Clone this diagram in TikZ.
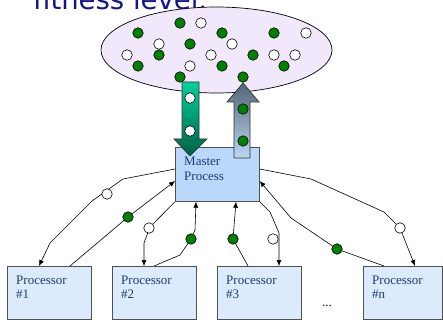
\documentclass[tikz,border=0pt]{standalone}
\usepackage{fontspec}
\setmainfont{Liberation Serif}
\newfontfamily\headfont{DejaVu Sans}
\usetikzlibrary{arrows.meta,calc,shapes.geometric}
\definecolor{navy}{RGB}{22,22,135}
\definecolor{poolfill}{RGB}{242,232,252}
\definecolor{gooddot}{RGB}{0,128,0}
\definecolor{masterfill}{RGB}{186,216,250}
\definecolor{procfill}{RGB}{220,235,252}
\definecolor{boxtext}{RGB}{30,60,110}
\definecolor{boxedge}{RGB}{80,80,80}
\definecolor{tealtop}{RGB}{0,210,155}
\definecolor{tealbot}{RGB}{0,95,70}
\definecolor{slatetop}{RGB}{85,100,118}
\definecolor{slatebot}{RGB}{190,215,245}
\tikzset{
  gdot/.style={circle,draw=black,line width=0.6pt,fill=gooddot,inner sep=0pt,minimum size=10.5pt},
  wdot/.style={circle,draw=black,line width=0.6pt,fill=white,inner sep=0pt,minimum size=10.5pt},
  procbox/.style={draw=boxedge,line width=0.7pt,fill=procfill,inner sep=0pt,minimum width=84pt,minimum height=53pt,anchor=north west},
  masterbox/.style={draw=boxedge,line width=0.7pt,fill=masterfill,inner sep=0pt,minimum width=84pt,minimum height=54pt,anchor=north west},
  boxlbl/.style={anchor=base west,inner sep=0pt,text=boxtext,font=\fontsize{13}{15}\selectfont},
  conn/.style={draw=black,line width=0.6pt},
  arr/.style={conn,-{Latex[length=6pt,width=5pt]}}
}
\begin{document}
\begin{tikzpicture}[x=1pt,y=-1pt]
\useasboundingbox (0,0) rectangle (443,320);

% heading line, cut at the top edge
\begin{scope}
\clip (0,0) rectangle (443,320);
\node[anchor=base west,inner sep=0pt,text=navy,font=\headfont\fontsize{27.5}{30}\selectfont] (head) at (33,9.5) {fitness level.};
\end{scope}

% population pool
\node[ellipse,draw=black,line width=0.7pt,fill=poolfill,minimum width=231pt,minimum height=86pt,inner sep=0pt] (pool) at (216.5,50) {};

% master and processor boxes
\node[masterbox] (master) at (175,147) {};
\node[procbox] (p1) at (7,266) {};
\node[procbox] (p2) at (112,266) {};
\node[procbox] (p3) at (217,266) {};
\node[procbox,minimum width=79pt] (pn) at (363,266) {};

% transfer arrows between pool and master
\shade[top color=tealtop,bottom color=tealbot,draw=black!80,line width=0.7pt]
  (182,82) -- (199,82) -- (199,139) -- (207,139) -- (190,156) -- (174,139) -- (182,139) -- cycle;
\shade[top color=slatetop,bottom color=slatebot,draw=black!80,line width=0.7pt]
  (234,158) -- (250,158) -- (250,102) -- (259,102) -- (243,83) -- (227,102) -- (234,102) -- cycle;

% individuals in the pool
\foreach \i/\p in {1/{180,23},2/{138,33},3/{222,33},4/{274,33},5/{190,44},6/{159,55},7/{253,55},8/{138,66},9/{222,66},10/{284,66},11/{180,77},12/{243,77}}
  \node[gdot] (g\i) at (\p) {};
\foreach \i/\p in {1/{201,23},2/{306,33},3/{159,44},4/{232,44},5/{127,55},6/{211,55},7/{274,55},8/{295,55},9/{190,66}}
  \node[wdot] (w\i) at (\p) {};

% individuals travelling through the arrows
\node[wdot] (down1) at (190,98) {};
\node[wdot] (down2) at (190,131) {};
\node[gdot] (up1) at (243,109) {};
\node[gdot] (up2) at (243,141) {};

% box labels
\node[boxlbl] (mlbl1) at (184,165) {Master};
\node[boxlbl] (mlbl2) at (184,180) {Process};
\node[boxlbl] (l1a) at (16,284) {Processor};
\node[boxlbl] (l1b) at (16,298) {\#1};
\node[boxlbl] (l2a) at (121,284) {Processor};
\node[boxlbl] (l2b) at (121,298) {\#2};
\node[boxlbl] (l3a) at (226,284) {Processor};
\node[boxlbl] (l3b) at (226,298) {\#3};
\node[boxlbl] (lna) at (372,284) {Processor};
\node[boxlbl] (lnb) at (372,298) {\#n};
\node[anchor=base,inner sep=0pt,font=\fontsize{13}{15}\selectfont] (more) at (327,306) {...};

% master <-> processor traffic
\draw[arr] (master.west |- 0,169) -- (123,179) -- (92,201) -- (50,243) -- (p1.north -| 39,0);
\draw[arr] (p1.north -| 70,0) -- (128,217) -- (master.west |- 0,181);
\draw[arr] (master.south west) -- (150,227) -- (144,243) -- (p2.north -| 144,0);
\draw[arr] (p2.north -| 154,0) -- (180,255) -- (191,239) -- (195,230) -- (master.south -| 196,0);
\draw[arr] (p3.north -| 248,0) -- (233,239) -- (master.south -| 236,0);
\draw[arr] (master.south east) -- (270,212) -- (279,233) -- (p3.north -| 279,0);
\draw[arr] (pn.north -| 384,0) -- (337,249) -- (291,218) -- (master.east |- 0,181);
\draw[arr] (master.east |- 0,169) -- (311,179) -- (384,212) -- (400,228) -- (pn.north -| 415,0);

% individuals on the links
\node[wdot] (c1) at (107,194) {};
\node[gdot] (c2) at (128,217) {};
\node[wdot] (c3) at (149,228) {};
\node[gdot] (c4) at (191,239) {};
\node[gdot] (c5) at (233,239) {};
\node[wdot] (c6) at (273,239) {};
\node[gdot] (c7) at (337,249) {};
\node[wdot] (c8) at (400,228) {};
\end{tikzpicture}
\end{document}
